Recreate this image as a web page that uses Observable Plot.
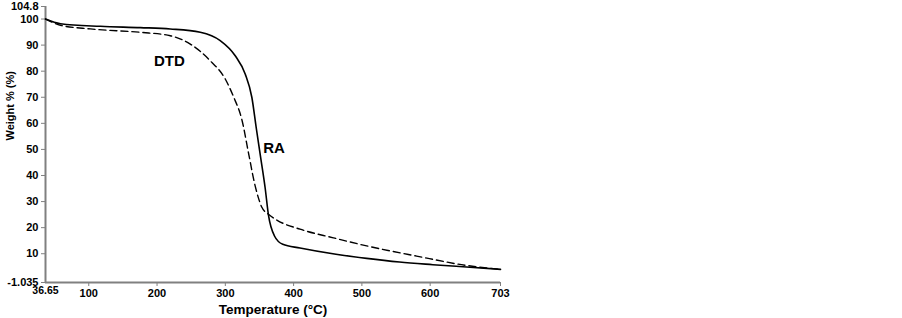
<!DOCTYPE html>
<html>
<head>
<meta charset="utf-8">
<script src="https://cdn.jsdelivr.net/npm/d3@7"></script>
<script src="https://cdn.jsdelivr.net/npm/@observablehq/plot@0.6"></script>
<style>
  html, body { margin: 0; padding: 0; background: #fff; }
  #chart svg { display: block; }
</style>
</head>
<body>
<div id="chart"></div>
<script>
// RA (solid line)
const raTemp =   [36.65, 58.6, 117.1, 175.6, 219.4, 263.3, 292.5, 314.5, 329.1, 338.9, 345.2, 351.0, 358.3, 363.2, 372.0, 384.1, 409.4, 462.0, 507.0, 555.1, 603.9, 653.2, 703];
const raWeight = [100,   98.2, 97.2,  96.7,  96.2,  94.9,  91.7,  85.9,  78.9,  69.9,  58.4,  48.2,  35.3,  24.8,  16.8,  13.6,  12.2,  9.8,   8.2,   6.8,   5.8,   4.9,   4.0];
// DTD (dashed line)
const dtdTemp =   [36.65, 58.6, 102.5, 175.6, 219.4, 248.7, 277.9, 299.9, 311.5, 324.7, 333.9, 343.7, 353.5, 363.2, 375.4, 409.4, 458.2, 507.0, 580.1, 653.2, 703];
const dtdWeight = [100,   97.6, 96.2,  94.9,  93.6,  90.4,  84.0,  77.0,  70.5,  60.9,  48.7,  36.0,  27.8,  25.1,  22.9,  19.4,  16.1,  13.0,  9.1,   5.5,   4.0];

const xTicks = [36.65, 100, 200, 300, 400, 500, 600, 703];
const yTicks = [-1.035, 10, 20, 30, 40, 50, 60, 70, 80, 90, 100, 104.8];
const dtdLabel = {name: "DTD", t: 218, w: 84};
const raLabel = {name: "RA", t: 355.4, w: 50.3};

const ra = raTemp.map((t, i) => ({t, w: raWeight[i]}));
const dtd = dtdTemp.map((t, i) => ({t, w: dtdWeight[i]}));

const gray = "#808080";
const font = "Liberation Sans, Arial, sans-serif";

const chart = Plot.plot({
  width: 902,
  height: 318,
  marginLeft: 45,
  marginRight: 402,
  marginTop: 6,
  marginBottom: 36,
  style: {fontFamily: font, background: "#fff", color: "#000"},
  x: {domain: [36.65, 703]},
  y: {domain: [-1.035, 104.8]},
  marks: [
    Plot.axisX({
      ticks: xTicks.filter(d => d !== 36.65),
      tickFormat: d => String(d),
      tickSize: 4, tickPadding: 3, stroke: gray,
      fontSize: 11, fontWeight: "bold", label: null
    }),
    Plot.text([36.65], {x: d => d, frameAnchor: "bottom", dy: 11, text: d => "36.65",
      fontSize: 10.5, fontWeight: "bold", fontFamily: "Liberation Sans Narrow, Liberation Sans, sans-serif"}),
    Plot.axisY({
      ticks: yTicks,
      tickFormat: d => String(d),
      tickSize: 4, tickPadding: 3, stroke: gray,
      fontSize: 11, fontWeight: "bold", label: null
    }),
    Plot.ruleY([-1.035], {stroke: gray, strokeWidth: 2}),
    Plot.ruleX([36.65], {stroke: gray, strokeWidth: 2}),
    Plot.line(dtd, {x: "t", y: "w", stroke: "#000", strokeWidth: 1.4, strokeDasharray: "7,4", curve: "monotone-x"}),
    Plot.line(ra, {x: "t", y: "w", stroke: "#000", strokeWidth: 1.6, curve: "monotone-x"}),
    Plot.text([dtdLabel], {x: "t", y: "w", text: "name", textAnchor: "middle", fontSize: 15, fontWeight: "bold"}),
    Plot.text([raLabel], {x: "t", y: "w", text: "name", textAnchor: "start", fontSize: 15, fontWeight: "bold"}),
    Plot.text(["Temperature (°C)"], {frameAnchor: "bottom", dy: 31, fontSize: 13.5, fontWeight: "bold"}),
    Plot.text(["Weight % (%)"], {frameAnchor: "left", dx: -35, dy: -4, rotate: -90, fontSize: 11, fontWeight: "bold"})
  ]
});
document.getElementById("chart").appendChild(chart);
</script>
</body>
</html>
